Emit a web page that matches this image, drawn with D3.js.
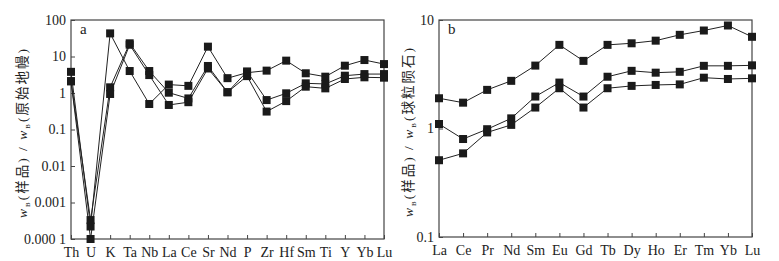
<!DOCTYPE html>
<html>
<head>
<meta charset="utf-8">
<script src="https://cdn.jsdelivr.net/npm/d3@7"></script>
<style>
  body { margin: 0; background: #fff; }
  svg { display: block; }
  svg text { font-family: "Liberation Serif", "Times New Roman", "DejaVu Serif", "Noto Sans CJK SC", serif; fill: #222; }
</style>
</head>
<body>
<div id="chart"></div>
<script>
const W = 779, H = 261;
const serif = '"Liberation Serif", "Times New Roman", "DejaVu Serif", "Noto Sans CJK SC", serif';

// panel a: primitive-mantle normalised trace elements
const elemsA = ['Th', 'U', 'K', 'Ta', 'Nb', 'La', 'Ce', 'Sr', 'Nd', 'P', 'Zr', 'Hf', 'Sm', 'Ti', 'Y', 'Yb', 'Lu'];
const seriesA1 = [3.8, 0.00022, 43, 4.0, 0.5, 1.7, 1.57, 18.6, 2.55, 3.6, 4.1, 7.7, 3.47, 2.8, 5.6, 8.0, 6.2];
const seriesA2 = [2.1, 0.00033, 1.43, 23, 4.0, 1.02, 0.71, 5.5, 1.05, 3.9, 0.64, 0.98, 1.84, 1.77, 2.98, 3.3, 3.3];
const seriesA3 = [2.1, 0.0001, 0.94, 21, 3.1, 0.47, 0.56, 4.7, 1.05, 2.9, 0.31, 0.6, 1.49, 1.34, 2.42, 2.69, 2.63];
const ticksA = [100, 10, 1, 0.1, 0.01, 0.001, 0.0001];
const tickLabelsA = ['100', '10', '1', '0.1', '0.01', '0.001', '0.000 1'];

// panel b: chondrite normalised REE
const elemsB = ['La', 'Ce', 'Pr', 'Nd', 'Sm', 'Eu', 'Gd', 'Tb', 'Dy', 'Ho', 'Er', 'Tm', 'Yb', 'Lu'];
const seriesB1 = [1.9, 1.73, 2.27, 2.75, 3.8, 5.9, 4.2, 5.9, 6.1, 6.45, 7.3, 8.0, 8.9, 7.0];
const seriesB2 = [1.1, 0.8, 0.985, 1.24, 1.97, 2.65, 1.97, 3.0, 3.4, 3.27, 3.33, 3.78, 3.78, 3.82];
const seriesB3 = [0.51, 0.59, 0.92, 1.08, 1.56, 2.35, 1.56, 2.35, 2.47, 2.52, 2.55, 2.94, 2.86, 2.9];
const ticksB = [10, 1, 0.1];
const tickLabelsB = ['10', '1', '0.1'];

const svg = d3.select('#chart').append('svg')
  .attr('width', W)
  .attr('height', H);

function drawPanel(opt) {
  const x = d3.scalePoint()
    .domain(opt.elems)
    .range([opt.x0, opt.x1])
    .padding(0);
  const y = d3.scaleLog()
    .domain(opt.domain)
    .range([opt.y1, opt.y0]);
  const g = svg.append('g');

  // frame
  g.append('rect')
    .attr('x', opt.x0)
    .attr('y', opt.y0)
    .attr('width', opt.x1 - opt.x0)
    .attr('height', opt.y1 - opt.y0)
    .attr('fill', 'none')
    .attr('stroke', '#444')
    .attr('stroke-width', 1.2);

  // bottom axis, ticks pointing inward
  const xAxis = d3.axisBottom(x).tickSize(-4).tickPadding(8);
  g.append('g')
    .attr('transform', `translate(0, ${opt.y1})`)
    .call(xAxis)
    .attr('font-family', serif)
    .call(a => a.select('.domain').remove())
    .call(a => a.selectAll('line').attr('stroke', '#444'))
    .call(a => a.selectAll('text')
      .attr('font-size', 14)
      .attr('fill', '#222'));

  // left axis
  const yAxis = d3.axisLeft(y)
    .tickValues(opt.ticks)
    .tickFormat((d, i) => opt.tickLabels[i])
    .tickSize(-4)
    .tickPadding(5);
  g.append('g')
    .attr('transform', `translate(${opt.x0}, 0)`)
    .call(yAxis)
    .attr('font-family', serif)
    .call(a => a.select('.domain').remove())
    .call(a => a.selectAll('line').attr('stroke', '#444'))
    .call(a => a.selectAll('text')
      .attr('font-size', 14)
      .attr('fill', '#222'));

  const line = d3.line()
    .x((d, i) => x(opt.elems[i]))
    .y(d => y(d));

  opt.series.forEach(s => {
    g.append('path')
      .datum(s)
      .attr('d', line)
      .attr('fill', 'none')
      .attr('stroke', '#222')
      .attr('stroke-width', 1);
  });
  opt.series.forEach(s => {
    g.append('g')
      .selectAll('rect')
      .data(s)
      .join('rect')
        .attr('x', (d, i) => x(opt.elems[i]) - 4)
        .attr('y', d => y(d) - 4)
        .attr('width', 8)
        .attr('height', 8)
        .attr('fill', '#1a1a1a');
  });

  // panel letter
  g.append('text')
    .attr('x', opt.x0 + 9)
    .attr('y', opt.y0 + 14)
    .attr('font-size', 15)
    .attr('font-family', serif)
    .text(opt.letter);

  // y label
  const lab = g.append('text')
    .attr('transform', `translate(${opt.labelX}, ${(opt.y0 + opt.y1) / 2 + 3}) rotate(-90)`)
    .attr('text-anchor', 'middle')
    .attr('font-family', serif)
    .attr('font-size', 13.5)
    .attr('letter-spacing', 2);
  lab.append('tspan').attr('font-style', 'italic').text('w');
  lab.append('tspan').attr('font-size', 7).attr('dy', 3).text('B');
  lab.append('tspan').attr('dy', -3).text('(样品) / ');
  lab.append('tspan').attr('font-style', 'italic').text('w');
  lab.append('tspan').attr('font-size', 7).attr('dy', 3).text('B');
  lab.append('tspan').attr('dy', -3).text(opt.norm);
}

drawPanel({
  elems: elemsA,
  series: [seriesA1, seriesA2, seriesA3],
  domain: [0.0001, 100],
  ticks: ticksA,
  tickLabels: tickLabelsA,
  x0: 71, x1: 384, y0: 20, y1: 239,
  letter: 'a',
  labelX: 27,
  norm: '(原始地幔)'
});

drawPanel({
  elems: elemsB,
  series: [seriesB1, seriesB2, seriesB3],
  domain: [0.1, 10],
  ticks: ticksB,
  tickLabels: tickLabelsB,
  x0: 439, x1: 752, y0: 20, y1: 237,
  letter: 'b',
  labelX: 413,
  norm: '(球粒陨石)'
});
</script>
</body>
</html>
